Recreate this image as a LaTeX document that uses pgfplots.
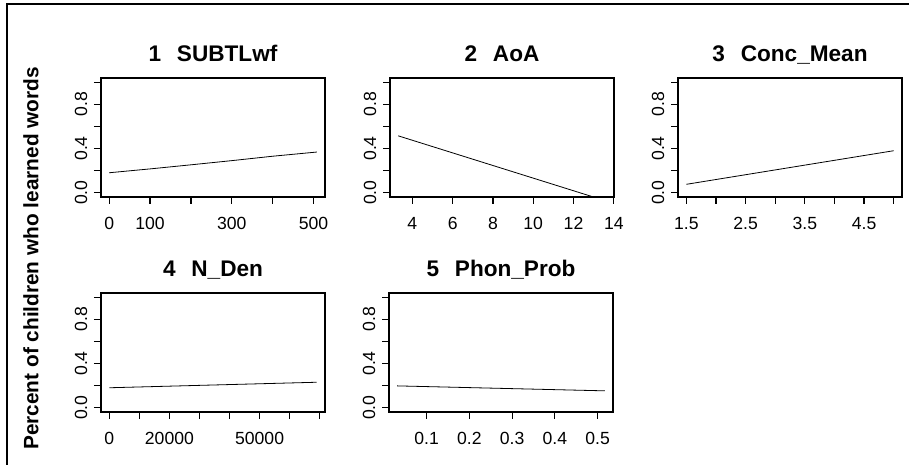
\documentclass[border=0pt]{standalone}
\usepackage{fontspec}
\setmainfont{Liberation Sans}
\usepackage{pgfplots}
\pgfplotsset{compat=1.18}

% one panel of the R effects display
\pgfplotsset{rpanel/.style={
    width=112pt, height=59.5pt, scale only axis,
    anchor=south west,
    axis line style={line width=0.8pt},
    ymin=-0.04, ymax=1.04,
    ytick={0,0.2,0.4,0.6,0.8,1},
    yticklabels={0.0,{},0.4,{},0.8,{}},
    tick align=outside, tick pos=left,
    major tick length=3.5pt,
    tick style={line width=0.6pt, black},
    scaled ticks=false,
    ticklabel style={font=\fontsize{8.8}{10}\selectfont, inner sep=0pt},
    yticklabel style={rotate=90, anchor=south, yshift=3.2pt},
    xticklabel style={anchor=north, yshift=-6.5pt},
    title style={font=\bfseries\fontsize{11.3}{13}\selectfont,
        at={(0.5,1)}, anchor=base, yshift=2.4pt},
    cycle list={{black, line width=1.1pt}},
}}

\begin{document}
\begin{tikzpicture}
\useasboundingbox (0,0) rectangle (454.5pt,232.5pt);
\draw[line width=1pt] (3.5pt,0) -- (3.5pt,230.5pt);
\draw[line width=1pt] (3pt,230.5pt) -- (454.5pt,230.5pt);

\node[rotate=90, font=\bfseries\fontsize{10.4}{12}\selectfont] at (15.5pt,103.3pt)
    {Percent of children who learned words};

\begin{axis}[rpanel, at={(50.5pt,134pt)},
    title={1\hspace{0.7em}SUBTLwf},
    xmin=-20, xmax=528,
    xtick={0,100,200,300,400,500},
    xticklabels={0,100,{},300,{},500}]
\addplot coordinates {(0,0.18) (100,0.215) (200,0.252) (300,0.29) (400,0.33) (508,0.368)};
\end{axis}

\begin{axis}[rpanel, at={(195pt,134pt)},
    title={2\hspace{0.7em}AoA},
    xmin=2.89, xmax=14.01,
    xtick={4,6,8,10,12,14},
    xticklabels={4,6,8,10,12,14}]
\addplot coordinates {(3.3,0.515) (13.6,-0.075)};
\end{axis}

\begin{axis}[rpanel, at={(339pt,134pt)},
    title={3\hspace{0.7em}Conc\_Mean},
    xmin=1.36, xmax=5.14,
    xtick={1.5,2,2.5,3,3.5,4,4.5,5},
    xticklabels={1.5,{},2.5,{},3.5,{},4.5,{}}]
\addplot coordinates {(1.5,0.075) (5.0,0.38)};
\end{axis}

\begin{axis}[rpanel, at={(50.5pt,26.5pt)},
    title={4\hspace{0.7em}N\_Den},
    xmin=-2760, xmax=71760,
    xtick={0,10000,20000,30000,40000,50000,60000,70000},
    xticklabels={0,{},20000,{},{},50000,{},{}}]
\addplot coordinates {(0,0.18) (69000,0.23)};
\end{axis}

\begin{axis}[rpanel, at={(194.5pt,26.5pt)},
    title={5\hspace{0.7em}Phon\_Prob},
    xmin=0.012, xmax=0.536,
    xtick={0.1,0.2,0.3,0.4,0.5},
    xticklabels={0.1,0.2,0.3,0.4,0.5}]
\addplot coordinates {(0.031,0.197) (0.517,0.152)};
\end{axis}
\end{tikzpicture}
\end{document}
